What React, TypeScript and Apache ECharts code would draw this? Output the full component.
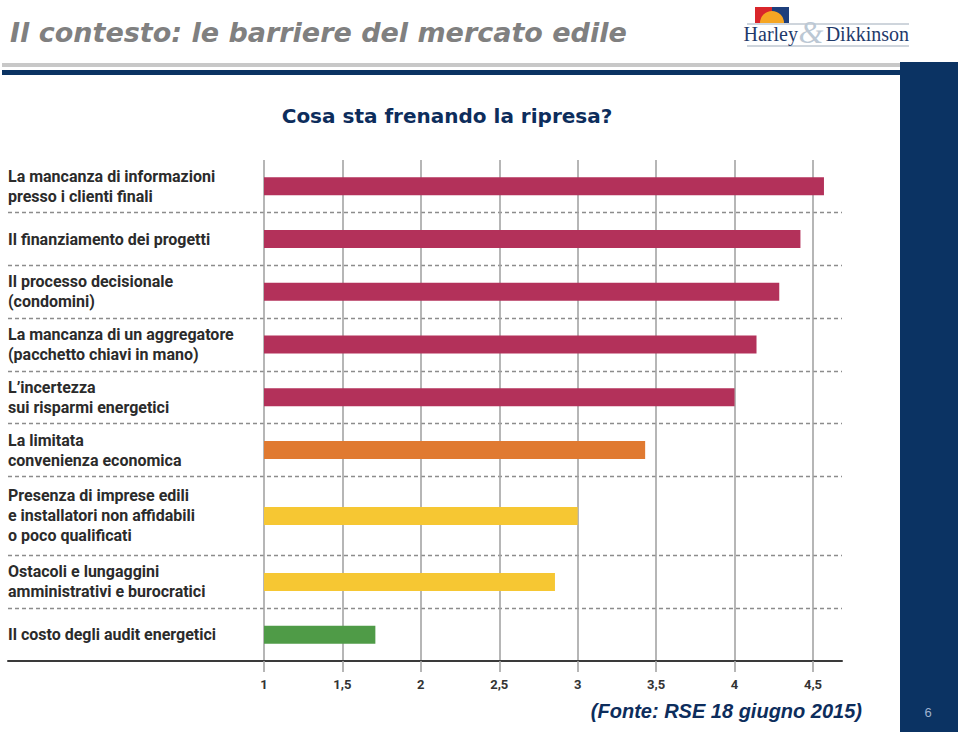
import React, { useEffect, useRef } from "react";
import * as echarts from "echarts";

const categories = [
  "La mancanza di informazioni\npresso i clienti finali",
  "Il finanziamento dei progetti",
  "Il processo decisionale\n(condomini)",
  "La mancanza di un aggregatore\n(pacchetto chiavi in mano)",
  "L’incertezza\nsui risparmi energetici",
  "La limitata\nconvenienza economica",
  "Presenza di imprese edili\ne installatori non affidabili\no poco qualificati",
  "Ostacoli e lungaggini\namministrativi e burocratici",
  "Il costo degli audit energetici",
];
const values = [4.57, 4.42, 4.285, 4.14, 4.0, 3.43, 3.0, 2.855, 1.71];
const groups = ["high", "high", "high", "high", "high", "mid", "low", "low", "min"];
const groupColors: Record<string, string> = {
  high: "#b3315a",
  mid: "#e07a31",
  low: "#f6c733",
  min: "#4f9b47",
};
const xTicks = [1, 1.5, 2, 2.5, 3, 3.5, 4, 4.5];
const xMax = 4.685;
const titleText = "Il contesto: le barriere del mercato edile";
const subtitleText = "Cosa sta frenando la ripresa?";
const sourceText = "(Fonte: RSE 18 giugno 2015)";
const pageNumber = "6";

// Build slot layout: each category band takes 2 * max(2, lines) slots
const slotNames: string[] = [];
const barData: any[] = [];
const boundaries = new Set<number>();
let cursor = 0;
const centers: number[] = [];
categories.forEach((c) => {
  const lines = c.split("\n").length;
  const units = 2 * Math.max(2, lines);
  centers.push(cursor + units / 2);
  cursor += units;
  boundaries.add(cursor);
});
const totalSlots = cursor + 1;
for (let i = 0; i < totalSlots; i++) {
  const ci = centers.indexOf(i);
  slotNames.push(ci >= 0 ? categories[ci] : "");
  barData.push(
    ci >= 0
      ? { value: values[ci], itemStyle: { color: groupColors[groups[ci]] } }
      : null
  );
}
boundaries.delete(cursor);

export default function App() {
  const ref = useRef<HTMLDivElement>(null);
  useEffect(() => {
    if (!ref.current) return;
    const chart = echarts.init(ref.current, null, { renderer: "svg" });
    const navy = "#0b3363";
    chart.setOption({
      animation: false,
      backgroundColor: "#ffffff",
      grid: [
        { left: 8, right: 118, top: 160, bottom: 72, containLabel: false },
        { left: 264, right: 118, top: 160, bottom: 72, containLabel: false },
      ],
      xAxis: [
        {
          gridIndex: 0,
          type: "value",
          min: 0,
          max: 1,
          axisLine: { show: true, lineStyle: { color: "#3a3a3a", width: 2 } },
          axisTick: { show: false },
          axisLabel: { show: false },
          splitLine: { show: false },
        },
        {
          gridIndex: 1,
          type: "value",
          min: xTicks[0],
          max: xMax,
          interval: 0.5,
          axisLine: { show: false },
          axisTick: {
            show: true,
            length: 11,
            customValues: xTicks,
            lineStyle: { color: "#a4a4a4", width: 1.6 },
          },
          axisLabel: {
            margin: 17,
            customValues: xTicks,
            color: "#333333",
            fontFamily: "Roboto",
            fontWeight: "bold",
            fontSize: 13,
            formatter: (v: number) => String(v).replace(".", ","),
          },
          splitLine: {
            show: true,
            lineStyle: { color: "#a4a4a4", width: 1.6 },
          },
        },
      ],
      yAxis: [
        {
          gridIndex: 0,
          type: "category",
          inverse: true,
          boundaryGap: false,
          data: slotNames.map((_, i) => "s" + i),
          axisLine: { show: false },
          axisTick: { show: false },
          axisLabel: { show: false },
          splitLine: {
            show: true,
            interval: (index: number) => boundaries.has(index),
            lineStyle: { color: "#8c8c8c", width: 1.3, type: [4, 3] },
          },
        },
        {
          gridIndex: 1,
          type: "category",
          inverse: true,
          boundaryGap: false,
          data: slotNames,
          axisLine: { show: false },
          axisTick: { show: false },
          splitLine: { show: false },
          axisLabel: {
            interval: 0,
            margin: 256,
            align: "left",
            color: "#2b2b2b",
            fontFamily: "Roboto",
            fontWeight: "bold",
            fontSize: 16,
            lineHeight: 20,
          },
        },
      ],
      series: [
        {
          type: "bar",
          xAxisIndex: 1,
          yAxisIndex: 1,
          data: barData,
          barWidth: 18,
          clip: true,
        },
      ],
      graphic: [
        // header
        {
          type: "text",
          left: 10,
          top: 19,
          style: {
            text: titleText,
            fill: "#808080",
            font: "italic bold 27px 'DejaVu Sans'",
          },
        },
        { type: "rect", shape: { x: 2, y: 63, width: 898, height: 4 }, style: { fill: "#c8c8c8" } },
        { type: "rect", shape: { x: 2, y: 70, width: 898, height: 5 }, style: { fill: navy } },
        { type: "rect", shape: { x: 900, y: 62, width: 58, height: 670 }, style: { fill: navy } },
        {
          type: "text",
          x: 928,
          y: 712,
          style: {
            text: pageNumber,
            fill: "#9fb2cf",
            font: "13px 'Liberation Sans'",
            align: "center",
            verticalAlign: "middle",
          },
        },
        // logo
        { type: "rect", shape: { x: 755, y: 7, width: 17, height: 16 }, style: { fill: "#d9262b" } },
        { type: "rect", shape: { x: 772, y: 7, width: 17, height: 16 }, style: { fill: "#1e3f7c" } },
        {
          type: "sector",
          shape: { cx: 772, cy: 23, r0: 0, r: 12, startAngle: Math.PI, endAngle: Math.PI * 2 },
          style: { fill: "#f6a623" },
        },
        { type: "line", shape: { x1: 747, y1: 24, x2: 909, y2: 24 }, style: { stroke: "#9eabb9", lineWidth: 1 } },
        { type: "line", shape: { x1: 747, y1: 46, x2: 909, y2: 46 }, style: { stroke: "#9eabb9", lineWidth: 1 } },
        {
          type: "text",
          x: 811,
          y: 32,
          style: {
            text: "&",
            fill: "#bcc8d4",
            font: "italic 32px 'Liberation Serif'",
            align: "center",
            verticalAlign: "middle",
          },
        },
        {
          type: "text",
          x: 798,
          y: 34,
          style: {
            text: "Harley",
            fill: "#1f3a6b",
            font: "20px 'Liberation Serif'",
            align: "right",
            verticalAlign: "middle",
          },
        },
        {
          type: "text",
          x: 909,
          y: 34,
          style: {
            text: "Dikkinson",
            fill: "#1f3a6b",
            font: "20px 'Liberation Serif'",
            align: "right",
            verticalAlign: "middle",
          },
        },
        // subtitle
        {
          type: "text",
          x: 447,
          y: 116,
          style: {
            text: subtitleText,
            fill: "#0d2d5c",
            font: "bold 20px 'DejaVu Sans'",
            align: "center",
            verticalAlign: "middle",
          },
        },
        // source
        {
          type: "text",
          x: 862,
          y: 711,
          style: {
            text: sourceText,
            fill: "#0d2d5c",
            font: "italic bold 20px 'Liberation Sans'",
            align: "right",
            verticalAlign: "middle",
          },
        },
      ],
    });
    return () => chart.dispose();
  }, []);
  return (
    <div
      ref={ref}
      style={{ position: "fixed", left: 0, top: 0, width: 960, height: 733 }}
    />
  );
}
